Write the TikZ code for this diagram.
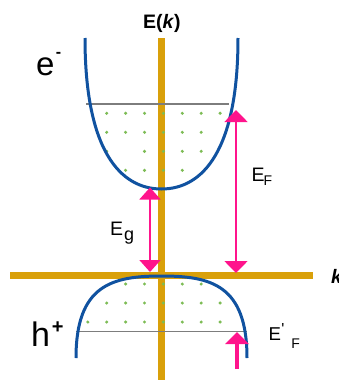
\documentclass[tikz,border=0pt]{standalone}
\usepackage{fontspec}
\setmainfont{Liberation Sans}
\usetikzlibrary{arrows.meta}
\definecolor{axisor}{RGB}{217,160,10}
\definecolor{bandblue}{RGB}{16,82,160}
\definecolor{arrpink}{RGB}{255,20,140}
\definecolor{dotgreen}{RGB}{125,188,85}
\definecolor{levgray}{RGB}{125,125,125}
\tikzset{
  axisline/.style={draw=axisor,line width=7pt},
  band/.style={draw=bandblue,line width=3pt},
  level/.style={draw=levgray,line width=1.8pt},
  dotstyle/.style={fill=dotgreen,draw=none},
  pinkarrow/.style={draw=arrpink,line width=1.8pt},
  bigtip/.style={arrows={-Triangle[width=23pt,length=12pt]}},
  lab/.style={inner sep=0pt,outer sep=0pt,anchor=base west}
}
\newcommand{\fs}[1]{\fontsize{#1}{#1}\selectfont}
\begin{document}
\begin{tikzpicture}[x=1pt,y=-1pt]
\useasboundingbox (0,0) rectangle (338,380);
% axes
\coordinate (vtop) at (161,38);
\coordinate (vbot) at (161,382);
\coordinate (hleft) at (10,275);
\coordinate (hright) at (313,275);
\draw[axisline] (vtop) -- (vbot);
\draw[axisline] (hleft) -- (hright);
% Fermi levels
\coordinate (fl1) at (86,104);
\coordinate (fr1) at (229,104);
\coordinate (fl2) at (76,331.5);
\coordinate (fr2) at (247,331.5);
\draw[level] (fl1) -- (fr1);
\draw[level] (fl2) -- (fr2);
% dots
\foreach \c/\r in {0/0,1/0,2/0,3/0,4/0,5/0,6/0,
                   0/1,1/1,2/1,3/1,4/1,5/1,
                   0/2,2/2,3/2,4/2,5/2,
                   1/3,2/3,3/3,4/3}
  \fill[dotstyle] ({106.7+18.9*\c},{113.3+19*\r}) circle (1.7);
\foreach \c/\r in {1/0,2/0,3/0,4/0,5/0,
                   0/1,1/1,2/1,3/1,4/1,5/1,6/1,
                   -1/2,0/2,1/2,2/2,3/2,4/2,5/2,6/2}
  \fill[dotstyle] ({106.7+18.9*\c},{284+19*\r}) circle (1.7);
% bands
\draw[band] (85,38) .. controls (85,150) and (120,189) .. (161.5,189)
            .. controls (203,189) and (238,150) .. (238,38);
\draw[band] (76,358) .. controls (76,285) and (112,276) .. (161.5,276)
            .. controls (211,276) and (247,285) .. (247,358);
% arrows
\coordinate (egtop) at (150,187.5);
\coordinate (egbot) at (150,272);
\coordinate (eftop) at (236,110);
\coordinate (efbot) at (236,273);
\coordinate (epftip) at (237,332);
\coordinate (epfbase) at (237,369);
\draw[pinkarrow,arrows={Triangle[width=21pt,length=12pt]-Triangle[width=21pt,length=12pt]}] (egbot) -- (egtop);
\draw[pinkarrow,arrows={Triangle[width=23pt,length=12pt]-Triangle[width=23pt,length=12pt]}] (efbot) -- (eftop);
\draw[pinkarrow,line width=3.5pt,bigtip] (epfbase) -- (epftip);
% labels
\node[lab] (ek) at (143,28.3) {\fs{19.5}\bfseries E(\textit{k})};
\node[lab] (kl) at (331,283.3) {\fs{19.5}\bfseries\itshape k};
\node[lab] (el) at (36,75) {\fs{33}e\kern1.5pt\raisebox{18pt}{\fs{16}\bfseries -}};
\node[lab] (hl) at (31,346) {\fs{34}h\kern2pt\raisebox{12.4pt}{\fs{20}\bfseries +}};
\node[lab] (efl) at (251.5,181.7) {\fs{19.5}E\kern-1pt\raisebox{-3.3pt}{\fs{14}F}};
\node[lab] (egl) at (110.2,235.7) {\fs{19.5}E\kern1pt\raisebox{-4.3pt}{\fs{18}g}};
\node[lab] (epl) at (268.5,340) {\fs{18.6}E\kern0.5pt\raisebox{5.8pt}{\fs{16}\textquotesingle}\kern7pt\raisebox{-8.3pt}{\fs{14}F}};
\end{tikzpicture}
\end{document}
